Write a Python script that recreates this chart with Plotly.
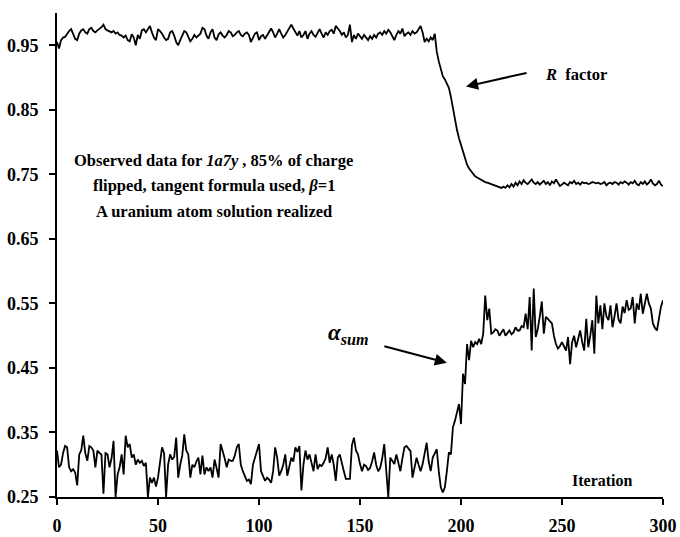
import plotly.graph_objects as go

iterations = list(range(0, 301))

r_factor = [
    0.955, 0.945, 0.958, 0.962, 0.963, 0.968, 0.972, 0.975, 0.966, 0.960,
    0.958, 0.968, 0.973, 0.975, 0.970, 0.968, 0.975, 0.977, 0.972, 0.970,
    0.973, 0.975, 0.978, 0.982, 0.975, 0.973, 0.972, 0.970, 0.972, 0.968,
    0.970, 0.966, 0.965, 0.962, 0.965, 0.958, 0.956, 0.967, 0.962, 0.950,
    0.966, 0.960, 0.973, 0.975, 0.970, 0.976, 0.980, 0.970, 0.962, 0.958,
    0.975, 0.972, 0.968, 0.962, 0.958, 0.960, 0.970, 0.972, 0.965, 0.955,
    0.950, 0.958, 0.965, 0.972, 0.970, 0.962, 0.956, 0.960, 0.966, 0.962,
    0.965, 0.968, 0.977, 0.975, 0.965, 0.960, 0.970, 0.975, 0.962, 0.958,
    0.967, 0.970, 0.965, 0.962, 0.966, 0.972, 0.970, 0.964, 0.966, 0.970,
    0.972, 0.966, 0.964, 0.968, 0.970, 0.966, 0.955, 0.962, 0.968, 0.970,
    0.958, 0.964, 0.966, 0.960, 0.966, 0.972, 0.976, 0.970, 0.962, 0.968,
    0.975, 0.968, 0.962, 0.966, 0.972, 0.978, 0.982, 0.976, 0.970, 0.965,
    0.972, 0.962, 0.966, 0.972, 0.960, 0.968, 0.972, 0.966, 0.963, 0.970,
    0.975, 0.968, 0.962, 0.970, 0.966, 0.972, 0.974, 0.968, 0.980, 0.976,
    0.972, 0.966, 0.970, 0.962, 0.966, 0.982, 0.955, 0.966, 0.960, 0.968,
    0.964, 0.960, 0.966, 0.962, 0.958, 0.964, 0.960, 0.966, 0.962, 0.968,
    0.970, 0.966, 0.972, 0.968, 0.974, 0.970, 0.964, 0.958, 0.966, 0.972,
    0.968, 0.976, 0.964, 0.968, 0.970, 0.966, 0.972, 0.968, 0.970, 0.976,
    0.980, 0.970, 0.955, 0.960, 0.956, 0.962, 0.958, 0.968, 0.940, 0.925,
    0.912, 0.902, 0.897, 0.890, 0.884, 0.870, 0.852, 0.835, 0.819, 0.806,
    0.795, 0.783, 0.773, 0.765, 0.759, 0.755, 0.751, 0.747, 0.745, 0.743,
    0.741, 0.739, 0.738, 0.737, 0.736, 0.735, 0.734, 0.733, 0.732, 0.731,
    0.729, 0.731, 0.729, 0.733, 0.730, 0.735, 0.731, 0.737, 0.733, 0.739,
    0.735, 0.741, 0.737, 0.735, 0.738, 0.742, 0.737, 0.735, 0.738, 0.734,
    0.737, 0.740, 0.735, 0.738, 0.733, 0.739, 0.736, 0.742, 0.737, 0.732,
    0.734, 0.737, 0.735, 0.733, 0.738, 0.736, 0.740, 0.735, 0.737, 0.734,
    0.738, 0.736, 0.737, 0.735, 0.736, 0.738, 0.737, 0.736, 0.737, 0.735,
    0.736, 0.738, 0.733, 0.736, 0.737, 0.735, 0.738, 0.737, 0.734, 0.738,
    0.736, 0.739, 0.737, 0.734, 0.738, 0.736, 0.740, 0.735, 0.733, 0.738,
    0.735, 0.739, 0.734, 0.737, 0.742, 0.736, 0.733, 0.735, 0.740, 0.734,
    0.732,
]

alpha_sum = [
    0.322, 0.296, 0.300, 0.318, 0.329, 0.327, 0.296, 0.290, 0.293, 0.288,
    0.268, 0.316, 0.322, 0.345, 0.318, 0.306, 0.329, 0.327, 0.322, 0.296,
    0.322, 0.318, 0.316, 0.255, 0.318, 0.316, 0.296, 0.310, 0.337, 0.250,
    0.285, 0.296, 0.316, 0.285, 0.345, 0.327, 0.332, 0.311, 0.316, 0.300,
    0.308, 0.303, 0.306, 0.298, 0.303, 0.250, 0.280, 0.272, 0.280, 0.266,
    0.280, 0.300, 0.327, 0.318, 0.250, 0.300, 0.316, 0.308, 0.312, 0.342,
    0.280, 0.300, 0.314, 0.347, 0.322, 0.316, 0.280, 0.300, 0.296, 0.305,
    0.311, 0.285, 0.314, 0.285, 0.296, 0.290, 0.296, 0.280, 0.308, 0.295,
    0.280, 0.332, 0.322, 0.310, 0.296, 0.308, 0.306, 0.306, 0.314, 0.327,
    0.332, 0.300, 0.290, 0.282, 0.275, 0.277, 0.270, 0.300, 0.310, 0.320,
    0.332, 0.290, 0.282, 0.275, 0.280, 0.277, 0.272, 0.290, 0.327, 0.311,
    0.283, 0.290, 0.300, 0.316, 0.283, 0.300, 0.311, 0.305, 0.327, 0.320,
    0.329, 0.260, 0.300, 0.322, 0.308, 0.316, 0.300, 0.290, 0.316, 0.293,
    0.300, 0.298, 0.303, 0.310, 0.327, 0.303, 0.316, 0.300, 0.275, 0.311,
    0.316, 0.300, 0.290, 0.278, 0.278, 0.278, 0.330, 0.342, 0.322, 0.316,
    0.301, 0.290, 0.300, 0.298, 0.292, 0.295, 0.305, 0.319, 0.300, 0.290,
    0.295, 0.310, 0.332, 0.290, 0.250, 0.311, 0.305, 0.301, 0.316, 0.300,
    0.290, 0.310, 0.327, 0.329, 0.325, 0.321, 0.280, 0.295, 0.311, 0.300,
    0.290, 0.301, 0.315, 0.334, 0.305, 0.290, 0.311, 0.318, 0.324, 0.290,
    0.265, 0.257, 0.265, 0.290, 0.319, 0.316, 0.358, 0.368, 0.380, 0.394,
    0.363, 0.441, 0.425, 0.487, 0.462, 0.492, 0.482, 0.490, 0.487, 0.495,
    0.487, 0.503, 0.562, 0.524, 0.542, 0.503, 0.505, 0.510, 0.508, 0.500,
    0.505, 0.510, 0.500, 0.505, 0.508, 0.502, 0.505, 0.513, 0.508, 0.508,
    0.515, 0.513, 0.534, 0.510, 0.560, 0.477, 0.573, 0.498, 0.510, 0.530,
    0.553, 0.503, 0.529, 0.526, 0.522, 0.519, 0.500, 0.487, 0.480, 0.484,
    0.490, 0.482, 0.477, 0.498, 0.456, 0.490, 0.500, 0.482, 0.495, 0.508,
    0.490, 0.477, 0.526, 0.482, 0.500, 0.524, 0.472, 0.562, 0.519, 0.547,
    0.510, 0.550, 0.530, 0.524, 0.547, 0.513, 0.530, 0.550, 0.525, 0.519,
    0.545, 0.535, 0.555, 0.540, 0.542, 0.560, 0.519, 0.550, 0.540, 0.565,
    0.534, 0.550, 0.565, 0.550, 0.542, 0.519, 0.512, 0.508, 0.530, 0.545,
    0.555,
]

x_ticks = [0, 50, 100, 150, 200, 250, 300]
y_ticks = [0.25, 0.35, 0.45, 0.55, 0.65, 0.75, 0.85, 0.95]
y_tick_labels = ["0.25", "0.35", "0.45", "0.55", "0.65", "0.75", "0.85", "0.95"]

FONT = "Liberation Serif"

fig = go.Figure()
fig.add_trace(go.Scatter(x=iterations, y=r_factor, mode="lines",
                         line=dict(color="black", width=1.8), showlegend=False))
fig.add_trace(go.Scatter(x=iterations, y=alpha_sum, mode="lines",
                         line=dict(color="black", width=1.8), showlegend=False))

axis_common = dict(showgrid=False, zeroline=False, showline=True, linecolor="black",
                   linewidth=2, ticks="outside", ticklen=6, tickwidth=1.5,
                   tickcolor="black", automargin=False,
                   tickfont=dict(family=FONT, size=18, color="black", weight="bold"))

fig.update_xaxes(range=[0, 300], tickvals=x_ticks, ticklabelstandoff=5, **axis_common)
fig.update_yaxes(range=[0.25, 1.0], tickvals=y_ticks, ticktext=y_tick_labels,
                 ticklabelstandoff=7, **axis_common)

txt = dict(family=FONT, size=16.5, color="black", weight="bold")
ann = [
    dict(x=77.5, y=0.772, text="Observed data for <i>1a7y</i> , 85% of charge"),
    dict(x=77.5, y=0.732, text="flipped, tangent formula used, <i>β</i>=1"),
    dict(x=77.5, y=0.692, text="A uranium atom solution realized"),
    dict(x=257, y=0.905, text="<i>R</i>  factor"),
    dict(x=270, y=0.276, text="Iteration", size=16),
]
for a in ann:
    f = dict(txt)
    if "size" in a:
        f["size"] = a.pop("size")
    fig.add_annotation(xref="x", yref="y", showarrow=False, font=f,
                       xanchor="center", yanchor="middle", **a)

fig.add_annotation(xref="x", yref="y", x=144, y=0.502, showarrow=False,
                   text="<i>α</i><sub><i>sum</i></sub>",
                   font=dict(family=FONT, size=23, color="black", weight="bold"),
                   xanchor="center", yanchor="middle")

# arrows
fig.add_annotation(xref="x", yref="y", x=202.5, y=0.886, ax=62, ay=-14,
                   text="", showarrow=True, arrowhead=2, arrowsize=1.2,
                   arrowwidth=2, arrowcolor="black")
fig.add_annotation(xref="x", yref="y", x=193, y=0.458, ax=-64, ay=-17,
                   text="", showarrow=True, arrowhead=2, arrowsize=1.2,
                   arrowwidth=2, arrowcolor="black")

fig.update_layout(width=680, height=537, margin=dict(l=57, r=17, t=13, b=40),
                  paper_bgcolor="white", plot_bgcolor="white")

fig.write_html("out.html")
